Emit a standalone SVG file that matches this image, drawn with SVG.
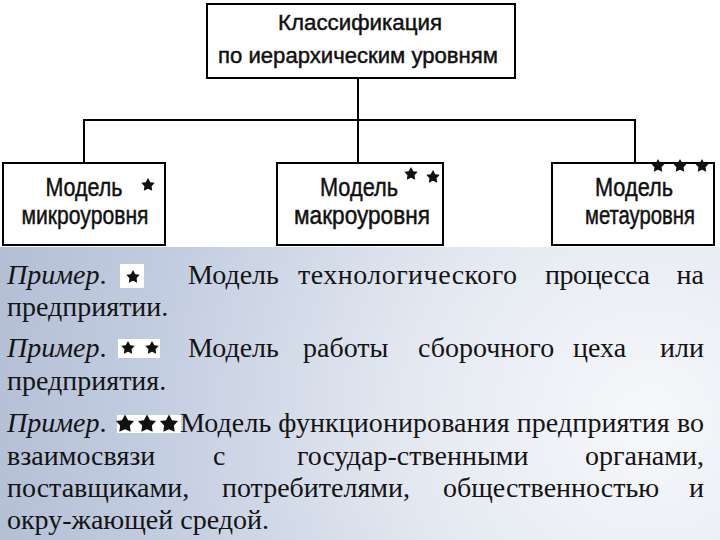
<svg xmlns="http://www.w3.org/2000/svg" width="720" height="540" viewBox="0 0 720 540">
<defs>
<radialGradient id="bg" cx="650" cy="420" r="680" gradientUnits="userSpaceOnUse">
<stop offset="0" stop-color="#f7f8fb"/>
<stop offset="0.35" stop-color="#e4e9f1"/>
<stop offset="0.75" stop-color="#c2cce0"/>
<stop offset="1" stop-color="#b2bed5"/>
</radialGradient>
<polygon id="star" points="0,-7 2.3,-2.8 6.7,-2.2 3.6,1.2 4.2,5.7 0,3.8 -4.2,5.7 -3.6,1.2 -6.7,-2.2 -2.3,-2.8" fill="#111"/>
</defs>
<style>
.box{fill:#fff;stroke:#000;stroke-width:2}
.con{fill:none;stroke:#000;stroke-width:2}
.lbl{font-family:"Liberation Sans",Arial,sans-serif;font-size:22px;fill:#111;stroke:#111;stroke-width:0.45;text-anchor:middle}
.big{font-size:25px}
.body{font-family:"Liberation Serif","Times New Roman",serif;font-size:28px;fill:#141414}
.it{font-style:italic}
.e{text-anchor:end}
.wb{fill:#fff}
</style>
<rect x="0" y="0" width="720" height="540" fill="url(#bg)"/>
<rect x="0" y="0" width="720" height="247" fill="#fff"/>

<g id="connectors">
<path class="con" d="M358,78 V120 M84,163 V120 H635 V163 M358,120 V163"/>
</g>

<g id="root">
<rect class="box" x="207" y="4" width="308" height="74"/>
<text class="lbl" x="360" y="30" textLength="164" lengthAdjust="spacingAndGlyphs">Классификация</text>
<text class="lbl" x="358" y="63" textLength="280" lengthAdjust="spacingAndGlyphs">по иерархическим уровням</text>
</g>

<g id="micro">
<rect class="box" x="3" y="163" width="162" height="82"/>
<text class="lbl big" x="84" y="196" textLength="77" lengthAdjust="spacingAndGlyphs">Модель</text>
<text class="lbl big" x="85" y="224" textLength="127" lengthAdjust="spacingAndGlyphs">микроуровня</text>
<use href="#star" x="148" y="185"/>
</g>

<g id="macro">
<rect class="box" x="277" y="163" width="166" height="82"/>
<text class="lbl big" x="359" y="196" textLength="78" lengthAdjust="spacingAndGlyphs">Модель</text>
<text class="lbl big" x="362" y="224" textLength="136" lengthAdjust="spacingAndGlyphs">макроуровня</text>
<rect class="wb" x="402" y="164" width="40" height="18"/>
<use href="#star" x="411" y="174"/>
<use href="#star" x="433" y="177"/>
</g>

<g id="meta">
<rect class="box" x="552" y="163" width="162" height="82"/>
<text class="lbl big" x="634" y="196" textLength="78" lengthAdjust="spacingAndGlyphs">Модель</text>
<text class="lbl big" x="640" y="224" textLength="110" lengthAdjust="spacingAndGlyphs">метауровня</text>
<use href="#star" x="658" y="166"/>
<use href="#star" x="680" y="166"/>
<use href="#star" x="702" y="166"/>
</g>

<g id="examples">
<rect class="wb" x="120" y="264" width="24" height="24"/>
<use href="#star" x="133" y="277"/>
<text class="body" y="284"><tspan class="it" x="7">Пример</tspan>.<tspan x="188">Модель</tspan><tspan x="298" textLength="219" lengthAdjust="spacing">технологического</tspan><tspan x="545" textLength="105" lengthAdjust="spacing">процесса</tspan></text>
<text class="body e" x="704" y="284">на</text>
<text class="body" x="7" y="316">предприятии.</text>

<rect class="wb" x="118" y="339" width="42" height="19"/>
<use href="#star" x="128" y="348"/>
<use href="#star" x="152" y="348"/>
<text class="body" y="357"><tspan class="it" x="7">Пример</tspan>.<tspan x="188">Модель</tspan><tspan x="303">работы</tspan><tspan x="418">сборочного</tspan><tspan x="573">цеха</tspan></text>
<text class="body e" x="704" y="357">или</text>
<text class="body" x="7" y="390">предприятия.</text>

<rect class="wb" x="117" y="415" width="64" height="18"/>
<use href="#star" transform="translate(125,424) scale(1.35)"/>
<use href="#star" transform="translate(147,424) scale(1.35)"/>
<use href="#star" transform="translate(169,424) scale(1.35)"/>
<text class="body" y="432"><tspan class="it" x="7">Пример</tspan>.<tspan x="180" textLength="524" lengthAdjust="spacing">Модель функционирования предприятия во</tspan></text>
<text class="body" y="465"><tspan x="7">взаимосвязи</tspan><tspan x="213">с</tspan><tspan x="297">государ-ственными</tspan></text>
<text class="body e" x="704" y="465">органами,</text>
<text class="body" y="497"><tspan x="7">поставщиками,</tspan><tspan x="222">потребителями,</tspan><tspan x="443">общественностью</tspan></text>
<text class="body e" x="704" y="497">и</text>
<text class="body" x="7" y="529">окру-жающей средой.</text>
</g>
</svg>
